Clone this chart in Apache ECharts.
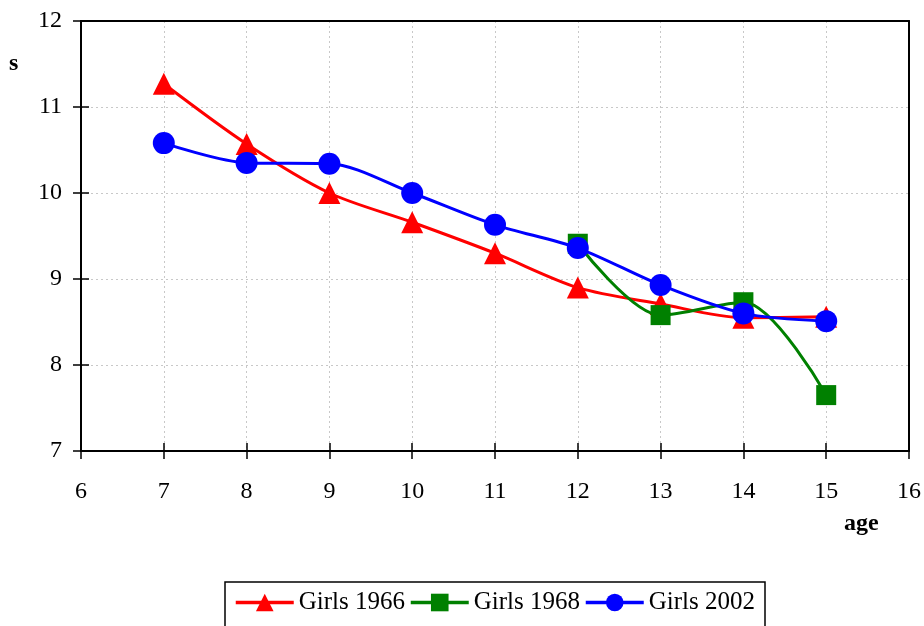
<!DOCTYPE html>
<html>
<head>
<meta charset="utf-8">
<script src="https://cdn.jsdelivr.net/npm/echarts@6/dist/echarts.min.js"></script>
<style>
  html, body { margin: 0; padding: 0; background: #fff; }
  #chart { width: 924px; height: 626px; }
</style>
</head>
<body>
<div id="chart"></div>
<script>
// Sprint times (s) by age
const ages = [7, 8, 9, 10, 11, 12, 13, 14, 15];
const girls1966 = [11.27, 10.57, 10.0, 9.66, 9.30, 8.90, 8.71, 8.55, 8.56];
const girls1968Ages = [12, 13, 14, 15];
const girls1968 = [9.41, 8.58, 8.73, 7.65];
const girls2002 = [10.58, 10.35, 10.34, 10.0, 9.63, 9.36, 8.93, 8.60, 8.51];

const font = '"Liberation Serif", "Times New Roman", serif';
const pairs = (xs, ys) => xs.map((x, i) => [x, ys[i]]);

const chart = echarts.init(document.getElementById('chart'));

const dotted = { show: true, lineStyle: { color: '#c8c8c8', type: [2, 3], width: 1 } };
const blackLine = { show: true, onZero: false, lineStyle: { color: '#000', width: 2 } };
const tickOut = { show: true, inside: false, length: 8, lineStyle: { color: '#000', width: 1.5 } };
const tickIn = { show: true, inside: true, length: 8, lineStyle: { color: '#000', width: 1.5 } };

const xCommon = { type: 'value', min: 6, max: 16, interval: 1 };
const yCommon = { type: 'value', min: 7, max: 12, interval: 1 };

const option = {
  animation: false,
  backgroundColor: '#fff',
  grid: { left: 81, right: 13, top: 21, bottom: 175 },
  xAxis: [
    Object.assign({}, xCommon, {
      position: 'bottom', axisLine: blackLine, axisTick: tickOut, splitLine: dotted,
      axisLabel: { margin: 29, color: '#000', fontFamily: font, fontSize: 24 }
    }),
    Object.assign({}, xCommon, {
      position: 'bottom', axisLine: blackLine, axisTick: tickIn,
      axisLabel: { show: false }, splitLine: { show: false }
    }),
    Object.assign({}, xCommon, {
      position: 'top', axisLine: blackLine, axisTick: { show: false },
      axisLabel: { show: false }, splitLine: { show: false }
    })
  ],
  yAxis: [
    Object.assign({}, yCommon, {
      position: 'left', axisLine: blackLine, axisTick: tickOut, splitLine: dotted,
      axisLabel: { margin: 19, color: '#000', fontFamily: font, fontSize: 24 }
    }),
    Object.assign({}, yCommon, {
      position: 'left', axisLine: blackLine, axisTick: tickIn,
      axisLabel: { show: false }, splitLine: { show: false }
    }),
    Object.assign({}, yCommon, {
      position: 'right', axisLine: blackLine, axisTick: { show: false },
      axisLabel: { show: false }, splitLine: { show: false }
    })
  ],
  legend: {
    left: 225, top: 582,
    itemWidth: 58, itemHeight: 22, itemGap: 4,
    padding: [8, 10, 12, 9],
    borderColor: '#000', borderWidth: 1.5,
    lineStyle: { width: 3.5 },
    textStyle: { fontFamily: font, fontSize: 25, color: '#000' },
    data: ['Girls 1966', 'Girls 1968', 'Girls 2002']
  },
  graphic: [
    { type: 'text', left: 9, top: 52, style: { text: 's', font: 'bold 24px ' + font, fill: '#000' } },
    { type: 'text', left: 844, top: 512, style: { text: 'age', font: 'bold 24px ' + font, fill: '#000' } }
  ],
  series: [
    {
      name: 'Girls 1966', type: 'line', smooth: 0.3,
      data: pairs(ages, girls1966),
      symbol: 'triangle', symbolSize: 22,
      itemStyle: { color: '#ff0000' },
      lineStyle: { color: '#ff0000', width: 3 },
      z: 2
    },
    {
      name: 'Girls 1968', type: 'line', smooth: 0.3,
      data: pairs(girls1968Ages, girls1968),
      symbol: 'rect', symbolSize: 20,
      itemStyle: { color: '#008000' },
      lineStyle: { color: '#008000', width: 3 },
      z: 3
    },
    {
      name: 'Girls 2002', type: 'line', smooth: 0.3,
      data: pairs(ages, girls2002),
      symbol: 'circle', symbolSize: 22,
      itemStyle: { color: '#0000ff' },
      lineStyle: { color: '#0000ff', width: 3 },
      z: 4
    }
  ]
};

chart.setOption(option);
</script>
</body>
</html>
